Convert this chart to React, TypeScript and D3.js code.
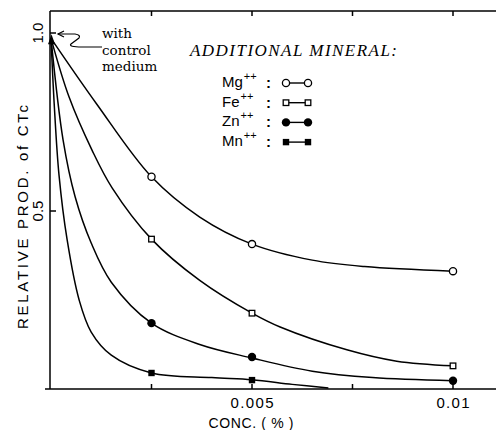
import React from 'react';
import * as d3 from 'd3';

// ---- data ----
const markerConc = [0.0025, 0.005, 0.01];
const mgValues = [0.596, 0.407, 0.331];
const feValues = [0.421, 0.213, 0.065];
const znValues = [0.185, 0.09, 0.023];
const mnConc = [0.0025, 0.005];
const mnValues = [0.045, 0.025];

const controlConc = 0;
const controlValue = 0.985;

// smooth hand-drawn curves
const mgCurveX = [0, 0.00114, 0.0025, 0.0037, 0.005, 0.0065, 0.0078, 0.01];
const mgCurveY = [0.985, 0.80, 0.596, 0.483, 0.407, 0.362, 0.344, 0.331];
const feCurveX = [0, 0.00045, 0.00102, 0.00152, 0.0025, 0.0037, 0.005, 0.0057, 0.00736, 0.0086, 0.01];
const feCurveY = [0.985, 0.82, 0.671, 0.565, 0.421, 0.305, 0.213, 0.174, 0.11, 0.078, 0.065];
const znCurveX = [0, 0.0003, 0.0006, 0.001, 0.0015, 0.0025, 0.0037, 0.005, 0.0065, 0.008, 0.01];
const znCurveY = [0.985, 0.70, 0.54, 0.41, 0.30, 0.185, 0.125, 0.087, 0.05, 0.032, 0.023];
const mnCurveX = [0, 0.00008, 0.0002, 0.0004, 0.0007, 0.001, 0.0015, 0.0025, 0.004, 0.005, 0.006, 0.0069];
const mnCurveY = [0.985, 0.80, 0.60, 0.42, 0.25, 0.16, 0.095, 0.045, 0.032, 0.026, 0.013, 0.003];

const xTicks = [0.0025, 0.005, 0.0075, 0.01];
const xTickLabelValues = [0.005, 0.01];
const xTickLabels = ['0.005', '0.01'];
const yTicks = [0.5, 1.0];
const yTickLabels = ['0.5', '1.0'];

const legendTitle = 'ADDITIONAL MINERAL:';
const legendNames = ['Mg', 'Fe', 'Zn', 'Mn'];
const legendKinds = ['openCircle', 'openSquare', 'filledCircle', 'filledSquare'];
const annotationLines = ['with', 'control', 'medium'];

type Kind = string;

function Marker({ kind, cx, cy }: { kind: Kind; cx: number; cy: number }) {
  if (kind === 'openCircle')
    return <circle cx={cx} cy={cy} r={3.6} fill="#fff" stroke="#000" strokeWidth={1.3} />;
  if (kind === 'filledCircle') return <circle cx={cx} cy={cy} r={4.2} fill="#000" />;
  if (kind === 'openSquare')
    return <rect x={cx - 2.8} y={cy - 2.8} width={5.6} height={5.6} fill="#fff" stroke="#000" strokeWidth={1.3} />;
  return <rect x={cx - 3.2} y={cy - 3.2} width={6.4} height={6.4} fill="#000" />;
}

export default function App() {
  const W = 496;
  const H = 430;
  const x = d3.scaleLinear().domain([0, 0.01]).range([51, 453]);
  const y = d3.scaleLinear().domain([0, 1]).range([389, 33]);
  const line = d3
    .line<[number, number]>()
    .x((d) => x(d[0]))
    .y((d) => y(d[1]))
    .curve(d3.curveCatmullRom.alpha(0.5));

  const zip = (a: number[], b: number[]) => a.map((v, i) => [v, b[i]] as [number, number]);
  const curves = [
    zip(mgCurveX, mgCurveY),
    zip(feCurveX, feCurveY),
    zip(znCurveX, znCurveY),
    zip(mnCurveX, mnCurveY),
  ];
  const markerSets: { kind: Kind; pts: [number, number][] }[] = [
    { kind: 'openCircle', pts: zip(markerConc, mgValues) },
    { kind: 'openSquare', pts: zip(markerConc, feValues) },
    { kind: 'filledCircle', pts: zip(markerConc, znValues) },
    { kind: 'filledSquare', pts: zip(mnConc, mnValues) },
  ];

  const left = x(0) - 1;
  const top = 11;
  const bottom = y(0);
  const right = W;

  const sans = "'Liberation Sans', Arial, sans-serif";
  const cx0 = x(controlConc);
  const cy0 = y(controlValue);
  const tipX = x(0) + 7;
  const tipY = y(1.0) + 1;

  return (
    <svg width={W} height={H} style={{ position: 'absolute', left: 0, top: 0, background: '#fff' }}>
      <rect width={W} height={H} fill="#fff" />
      {/* frame */}
      <g stroke="#000" strokeWidth={1.5} fill="none">
        <line x1={left} y1={top} x2={left} y2={bottom} />
        <line x1={left} y1={top} x2={right} y2={top} />
        <line x1={left - 5} y1={bottom} x2={right} y2={bottom} />
        {xTicks.map((t) => (
          <g key={t}>
            <line x1={x(t)} y1={bottom} x2={x(t)} y2={bottom - 5} />
            <line x1={x(t)} y1={top} x2={x(t)} y2={top + 5} />
          </g>
        ))}
        {yTicks.map((t) => (
          <line key={t} x1={left} y1={y(t)} x2={left + 6} y2={y(t)} />
        ))}
      </g>
      {/* tick labels */}
      {xTickLabelValues.map((v, i) => (
        <text key={v} x={x(v)} y={408} textAnchor="middle" fontFamily={sans} fontSize={15}
          textLength={i === 0 ? 43 : 33} lengthAdjust="spacing">
          {xTickLabels[i]}
        </text>
      ))}
      {yTicks.map((t, i) => (
        <text key={t} transform={`translate(43,${y(t)}) rotate(-90)`} textAnchor="middle"
          fontFamily={sans} fontSize={15}>
          {yTickLabels[i]}
        </text>
      ))}
      <text x={251} y={428} textAnchor="middle" fontFamily={sans} fontSize={14}
        textLength={85} lengthAdjust="spacing">CONC. ( % )</text>
      <text transform="translate(28,217) rotate(-90)" textAnchor="middle" fontFamily={sans}
        fontSize={15} textLength={224} lengthAdjust="spacing">RELATIVE PROD. of CTc</text>

      {/* curves */}
      <g fill="none" stroke="#000" strokeWidth={1.5}>
        {curves.map((c, i) => (
          <path key={i} d={line(c) || ''} />
        ))}
      </g>
      {markerSets.map((s) =>
        s.pts.map((p, j) => <Marker key={s.kind + j} kind={s.kind} cx={x(p[0])} cy={y(p[1])} />)
      )}
      {/* control point */}
      <path d={`M${cx0 - 3},${cy0 + 6} L${cx0 + 4},${cy0 + 6} L${cx0 + 0.5},${cy0 - 4} Z`} fill="#000" />

      {/* annotation */}
      <g fill="none" stroke="#000" strokeWidth={1.2}>
        <path d={`M${tipX + 44},${tipY + 13} L${tipX + 24},${tipY + 13} Q${tipX + 10},${tipY + 13} ${tipX + 13},${tipY + 10} L${tipX + 21},${tipY + 4} Q${tipX + 23},${tipY + 1} ${tipX + 17},${tipY} L${tipX},${tipY}`} />
        <path d={`M${tipX + 6},${tipY - 3} L${tipX},${tipY} L${tipX + 6},${tipY + 3}`} />
      </g>
      {annotationLines.map((t, i) => (
        <text key={t} x={102} y={38 + i * 16.5} fontFamily="'DejaVu Serif', serif" fontSize={13.5}>{t}</text>
      ))}

      {/* legend */}
      <text x={190} y={56} fontFamily="'Liberation Serif', serif" fontStyle="italic" fontSize={17}
        textLength={207} lengthAdjust="spacing">{legendTitle}</text>
      {legendNames.map((n, i) => {
        const by = 87 + i * 19.7;
        return (
          <g key={n}>
            <text x={222} y={by} fontFamily={sans} fontSize={15}>
              {n}
              <tspan fontSize={11} dy={-7} dx={1}>++</tspan>
            </text>
            <text x={266} y={by + 1} fontFamily={sans} fontSize={15} fontWeight="bold">:</text>
            <line x1={286} y1={by - 4} x2={308} y2={by - 4} stroke="#000" strokeWidth={1.4} />
            <Marker kind={legendKinds[i]} cx={286} cy={by - 4} />
            <Marker kind={legendKinds[i]} cx={308} cy={by - 4} />
          </g>
        );
      })}
    </svg>
  );
}
